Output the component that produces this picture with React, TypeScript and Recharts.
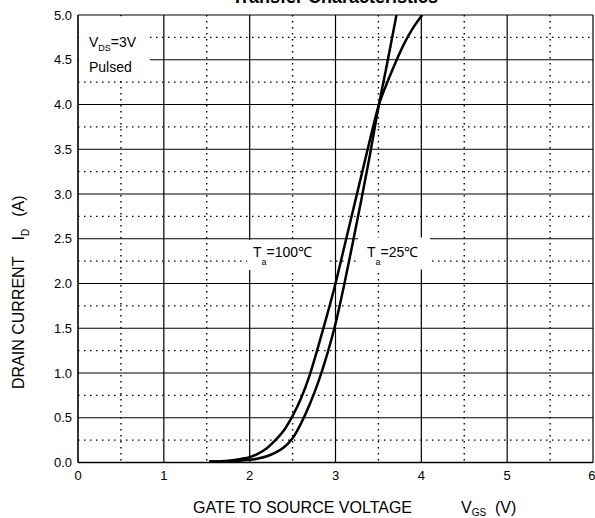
import React from "react";
import { LineChart, Line, XAxis, YAxis, CartesianGrid, Customized } from "recharts";

const vgs100 = [1.53, 1.75, 1.9, 2.0, 2.1, 2.2, 2.3, 2.4, 2.5, 2.6, 2.7, 2.8, 2.9, 3.0, 3.1, 3.2, 3.3, 3.4, 3.5, 3.6, 3.7, 3.8, 3.9, 4.01];
const id100 = [0.01, 0.02, 0.04, 0.06, 0.1, 0.16, 0.25, 0.36, 0.52, 0.72, 0.98, 1.3, 1.64, 2.0, 2.4, 2.8, 3.2, 3.6, 3.98, 4.24, 4.47, 4.68, 4.85, 5.0];
const vgs25 = [1.53, 1.8, 2.0, 2.1, 2.2, 2.3, 2.4, 2.5, 2.6, 2.7, 2.8, 2.9, 3.0, 3.1, 3.2, 3.3, 3.4, 3.5, 3.6, 3.7, 3.71];
const id25 = [0.01, 0.015, 0.03, 0.045, 0.07, 0.11, 0.17, 0.27, 0.44, 0.65, 0.9, 1.2, 1.55, 1.98, 2.45, 2.93, 3.43, 3.97, 4.45, 4.95, 5.0];

const xTicks = [0, 1, 2, 3, 4, 5, 6];
const yTicks = [0, 0.5, 1, 1.5, 2, 2.5, 3, 3.5, 4, 4.5, 5];
const xMajor = [1, 2, 3, 4, 5, 6];
const xMinor = [0.5, 1.5, 2.5, 3.5, 4.5, 5.5];
const yMajor = [0.5, 1, 1.5, 2, 2.5, 3, 3.5, 4, 4.5, 5];
const yMinor = [0.25, 0.75, 1.25, 1.75, 2.25, 2.75, 3.25, 3.75, 4.25, 4.75];

const data100 = vgs100.map((v, i) => ({ v, id: id100[i] }));
const data25 = vgs25.map((v, i) => ({ v, id: id25[i] }));

const FONT = "'Liberation Sans', Arial, sans-serif";

const Annotations = () => (
  <g fontFamily={FONT} fill="#000">
    <text x={335} y={3} textAnchor="middle" fontSize={18} fontWeight="bold">Transfer Characteristics</text>
    <rect x={79} y={16.5} width={71} height={63} fill="#fff" />
    <text x={89} y={47} fontSize={14}>
      V<tspan fontSize={9} dy={4}>DS</tspan><tspan dy={-4}>=3V</tspan>
    </text>
    <text x={89} y={72} fontSize={14}>Pulsed</text>
    <rect x={247} y={240} width={83} height={30} fill="#fff" />
    <text x={253} y={257} fontSize={14}>
      T<tspan fontSize={9} dy={8}>a</tspan><tspan dy={-8}>=100℃</tspan>
    </text>
    <rect x={358} y={237.5} width={72} height={32} fill="#fff" />
    <text x={367} y={257} fontSize={14}>
      T<tspan fontSize={9} dy={8}>a</tspan><tspan dy={-8}>=25℃</tspan>
    </text>
    <text x={193} y={513} fontSize={16}>GATE TO SOURCE VOLTAGE</text>
    <text x={461} y={513} fontSize={16}>
      V<tspan fontSize={10} dy={3}>GS</tspan>
    </text>
    <text x={495} y={513} fontSize={16}>(V)</text>
    <text transform="rotate(-90)" x={-389} y={24} fontSize={16}>
      DRAIN CURRENT<tspan dx={16}>I</tspan><tspan fontSize={10} dy={5}>D</tspan><tspan dy={-5} dx={12}>(A)</tspan>
    </text>
  </g>
);

export default function App() {
  return (
    <div style={{ position: "absolute", left: 0, top: 0, width: 595, height: 518, background: "#fff" }}>
      <LineChart width={595} height={518} margin={{ top: 15, right: 2, left: 0, bottom: 0 }}>
        <CartesianGrid horizontal vertical horizontalValues={yMinor} verticalValues={xMinor} stroke="#000" strokeWidth={1.4} strokeDasharray="1.5 4.5" />
        <CartesianGrid horizontal vertical horizontalValues={yMajor} verticalValues={xMajor} stroke="#000" strokeWidth={1.2} strokeDasharray="" />
        <XAxis
          type="number"
          dataKey="v"
          domain={[0, 6]}
          ticks={xTicks}
          allowDataOverflow
          height={55.5}
          tickSize={0}
          tickMargin={8}
          tick={{ fontSize: 13, fill: "#000", fontFamily: FONT }}
          axisLine={{ stroke: "#000", strokeWidth: 1.6 }}
        />
        <YAxis
          type="number"
          dataKey="id"
          domain={[0, 5]}
          ticks={yTicks}
          allowDataOverflow
          width={78}
          tickSize={0}
          tickMargin={6}
          tickFormatter={(t: number) => t.toFixed(1)}
          tick={{ fontSize: 13, fill: "#000", fontFamily: FONT }}
          axisLine={{ stroke: "#000", strokeWidth: 1.6 }}
        />
        <Customized component={Annotations} />
        <Line data={data100} dataKey="id" type="monotone" stroke="#000" strokeWidth={2.5} dot={false} isAnimationActive={false} />
        <Line data={data25} dataKey="id" type="monotone" stroke="#000" strokeWidth={2.5} dot={false} isAnimationActive={false} />
      </LineChart>
    </div>
  );
}
